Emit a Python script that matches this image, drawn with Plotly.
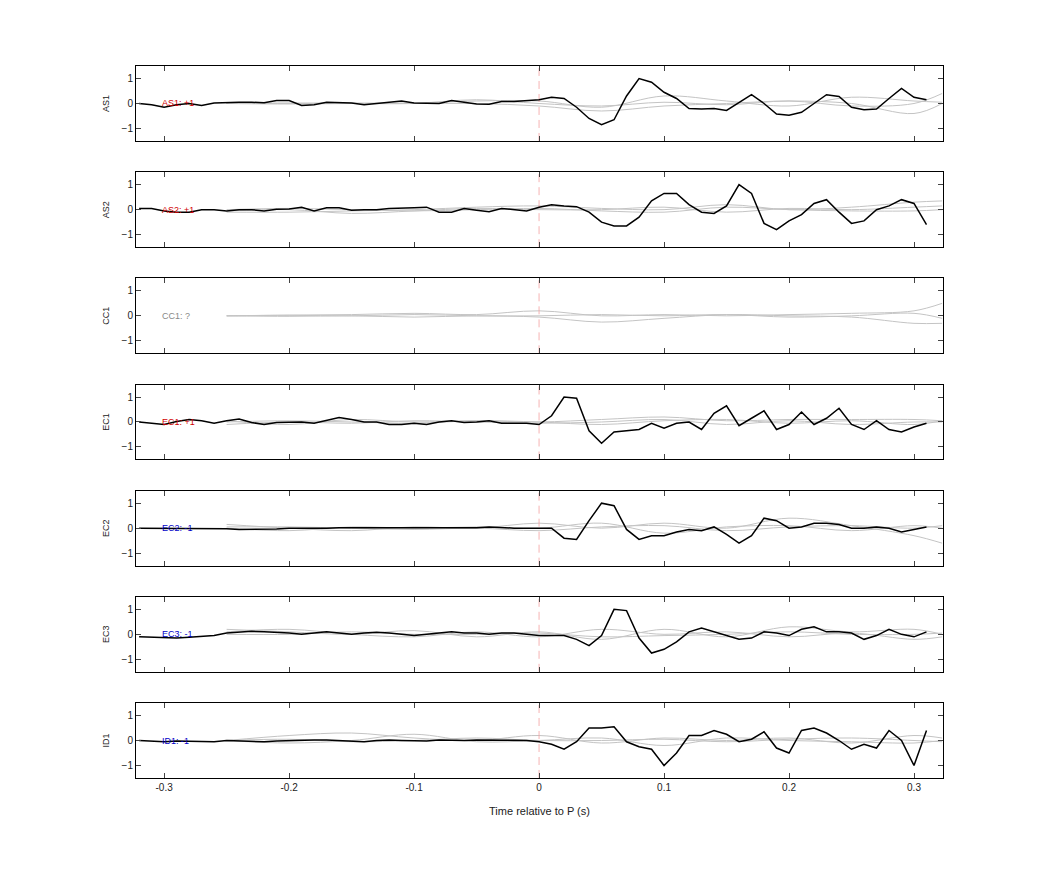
import plotly.graph_objects as go
from plotly.subplots import make_subplots

stations = ['AS1', 'AS2', 'CC1', 'EC1', 'EC2', 'EC3', 'ID1']
polarity = ['+1', '+1', '?', '+1', '-1', '-1', '-1']
label_colors = ['#d00000', '#d00000', '#888888', '#d00000', '#0000c8', '#0000c8', '#0000c8']

# black traces, sampled every 0.01 s from -0.32 to 0.31
t = [round(-0.32 + 0.01 * i, 2) for i in range(64)]

as1 = [0.0, -0.05, -0.15, -0.05, 0.0, -0.08, 0.02, 0.05, 0.05, 0.05, 0.03, 0.12, 0.12, -0.08, -0.05, 0.05,
       0.05, 0.02, -0.05, 0.0, 0.08, 0.1, 0.02, 0.02, 0.0, 0.12, 0.05, -0.02, -0.03, 0.08, 0.08, 0.1,
       0.15, 0.25, 0.2, -0.15, -0.6, -0.85, -0.65, 0.3, 1.0, 0.85, 0.45, 0.2, -0.2, -0.22, -0.2, -0.28,
       0.05, 0.35, 0.0, -0.42, -0.47, -0.35, 0.0, 0.35, 0.28, -0.15, -0.25, -0.22, 0.2, 0.6, 0.25, 0.15]
as2 = [0.05, 0.05, -0.05, -0.1, -0.1, 0.0, 0.0, -0.05, 0.0, 0.0, -0.05, 0.02, 0.03, 0.1, -0.05, 0.08,
       0.08, -0.02, 0.0, 0.0, 0.05, 0.05, 0.08, 0.1, -0.1, -0.1, 0.05, -0.02, -0.08, 0.05, 0.0, -0.05,
       0.1, 0.2, 0.15, 0.12, -0.1, -0.5, -0.65, -0.65, -0.3, 0.35, 0.65, 0.65, 0.2, -0.1, -0.15, 0.15,
       1.0, 0.65, -0.55, -0.8, -0.45, -0.2, 0.25, 0.4, -0.1, -0.55, -0.45, 0.0, 0.15, 0.4, 0.25, -0.6]
ec1 = [0.0, -0.05, -0.1, 0.02, 0.1, 0.05, -0.05, 0.05, 0.12, -0.02, -0.1, -0.02, -0.02, 0.0, -0.05, 0.05,
       0.18, 0.1, 0.0, 0.0, -0.1, -0.1, -0.05, -0.1, 0.0, 0.05, -0.02, 0.0, 0.05, -0.05, -0.05, -0.05,
       -0.1, 0.25, 1.0, 0.95, -0.35, -0.85, -0.4, -0.35, -0.3, -0.05, -0.25, -0.05, 0.0, -0.3, 0.35, 0.65,
       -0.15, 0.15, 0.45, -0.3, -0.1, 0.4, -0.1, 0.15, 0.55, -0.1, -0.3, 0.05, -0.3, -0.4, -0.2, -0.05]
ec2 = [0.0, 0.0, 0.0, 0.0, 0.0, 0.0, -0.02, -0.02, -0.05, -0.05, -0.05, -0.03, 0.0, 0.0, -0.02, 0.0,
       0.02, 0.02, 0.0, 0.0, 0.0, 0.02, 0.03, 0.02, 0.0, 0.02, 0.0, 0.02, 0.05, 0.02, 0.0, 0.0,
       0.0, 0.0, -0.4, -0.45, 0.3, 1.0, 0.9, -0.05, -0.45, -0.3, -0.3, -0.15, -0.05, -0.1, 0.05, -0.25,
       -0.6, -0.3, 0.4, 0.3, 0.0, 0.05, 0.2, 0.2, 0.15, 0.0, 0.0, 0.05, 0.0, -0.15, -0.05, 0.05]
ec3 = [-0.1, -0.12, -0.15, -0.15, -0.12, -0.1, -0.05, 0.05, 0.1, 0.12, 0.1, 0.08, 0.05, 0.0, 0.05, 0.1,
       0.05, 0.0, 0.05, 0.08, 0.05, 0.0, -0.05, 0.0, 0.05, 0.1, 0.05, 0.05, 0.0, 0.05, 0.05, 0.0,
       -0.05, -0.05, -0.05, -0.2, -0.45, -0.05, 1.0, 0.95, -0.15, -0.75, -0.6, -0.3, 0.1, 0.25, 0.1, -0.05,
       -0.2, -0.15, 0.1, 0.05, -0.05, 0.2, 0.3, 0.1, 0.1, 0.05, -0.2, -0.05, 0.2, 0.0, -0.1, 0.1]
id1 = [0.0, -0.02, -0.05, -0.02, -0.02, -0.05, -0.05, 0.0, -0.02, -0.05, -0.05, -0.02, 0.0, 0.0, 0.02, 0.02,
       0.0, -0.02, -0.05, 0.0, 0.02, 0.0, 0.0, -0.02, 0.02, 0.0, 0.0, 0.02, 0.02, 0.0, 0.02, 0.0,
       -0.05, -0.15, -0.35, -0.05, 0.5, 0.5, 0.55, -0.05, -0.25, -0.35, -1.0, -0.5, 0.2, 0.2, 0.4, 0.25,
       -0.05, 0.05, 0.35, -0.3, -0.5, 0.4, 0.5, 0.3, 0.0, -0.35, -0.15, -0.3, 0.4, 0.0, -1.0, 0.4]
black = [as1, as2, None, ec1, ec2, ec3, id1]

# grey (synthetic comparison) traces, smooth, from -0.25 s
tg = [-0.25, -0.2, -0.15, -0.1, -0.05, 0.0, 0.05, 0.1, 0.15, 0.2, 0.25, 0.3, 0.3225]
grey = [
    [[0.0, 0.02, 0.0, 0.02, 0.1, 0.1, -0.15, 0.3, 0.1, -0.1, 0.25, 0.1, 0.05],
     [0.0, -0.02, 0.0, 0.0, 0.15, 0.0, -0.1, 0.05, -0.05, 0.1, -0.1, 0.0, 0.4],
     [0.0, 0.0, 0.02, 0.0, 0.0, -0.1, -0.3, -0.1, 0.0, 0.1, 0.0, -0.4, 0.0]],
    [[-0.1, -0.1, -0.05, 0.0, 0.1, 0.15, 0.05, 0.0, 0.2, 0.0, 0.1, 0.3, 0.35],
     [-0.05, 0.0, -0.15, -0.05, 0.05, 0.0, 0.0, 0.1, -0.1, 0.05, 0.0, 0.1, 0.15],
     [0.0, 0.05, 0.0, -0.05, 0.0, 0.05, -0.05, -0.1, 0.1, 0.0, -0.05, -0.05, 0.0]],
    [[0.0, 0.03, 0.05, 0.1, 0.05, 0.2, 0.0, 0.05, 0.0, 0.05, 0.1, 0.2, 0.5],
     [0.0, -0.02, 0.0, -0.05, 0.0, -0.05, -0.25, -0.1, 0.05, 0.0, -0.05, -0.3, -0.3],
     [0.0, 0.02, 0.0, 0.05, 0.0, 0.0, 0.05, 0.0, 0.05, -0.05, 0.0, 0.1, -0.1]],
    [[0.05, -0.1, 0.1, 0.0, 0.05, 0.0, 0.1, 0.2, 0.05, 0.1, 0.1, 0.1, 0.05],
     [-0.1, 0.0, -0.05, 0.05, 0.0, -0.05, 0.0, 0.1, -0.1, 0.05, -0.1, 0.0, 0.0],
     [0.0, 0.05, 0.0, -0.05, 0.05, 0.0, -0.1, 0.05, 0.1, -0.05, 0.05, -0.1, 0.05]],
    [[0.15, 0.0, -0.1, 0.05, 0.0, 0.2, 0.0, 0.2, 0.0, 0.4, 0.1, -0.3, -0.6],
     [0.0, -0.1, 0.05, 0.0, 0.05, 0.0, 0.2, -0.2, 0.05, 0.1, -0.1, 0.1, 0.0],
     [0.05, 0.05, 0.0, -0.05, 0.0, -0.1, 0.05, 0.1, -0.1, 0.05, 0.1, 0.0, 0.1]],
    [[0.2, 0.1, 0.0, 0.15, -0.1, 0.1, -0.2, 0.2, -0.1, 0.3, 0.1, 0.2, 0.0],
     [0.1, 0.2, 0.0, -0.1, 0.1, -0.1, 0.2, 0.0, 0.1, -0.1, 0.05, -0.2, -0.1],
     [0.0, 0.0, 0.1, 0.0, 0.0, 0.05, -0.1, -0.05, 0.0, 0.1, 0.0, 0.0, 0.05]],
    [[0.0, 0.2, 0.3, 0.1, 0.0, 0.2, -0.1, 0.1, 0.0, 0.1, -0.1, 0.2, 0.1],
     [0.0, -0.1, 0.0, 0.25, -0.05, 0.0, 0.1, -0.2, 0.1, 0.0, -0.05, -0.1, 0.0],
     [0.0, 0.05, -0.05, 0.0, 0.1, 0.0, 0.0, 0.05, -0.05, 0.05, 0.1, 0.0, -0.05]],
]

fig = make_subplots(rows=7, cols=1, shared_xaxes=True, vertical_spacing=0.0438)

for i, st in enumerate(stations):
    r = i + 1
    for g in grey[i]:
        fig.add_trace(go.Scatter(x=tg, y=g, mode='lines', line=dict(color='#c4c4c4', width=1, shape='spline'),
                                 showlegend=False, hoverinfo='skip'), row=r, col=1)
    fig.add_trace(go.Scatter(x=[0, 0], y=[-1.5, 1.5], mode='lines',
                             line=dict(color='#f4a0a0', width=0.8, dash='8px,5px'),
                             showlegend=False, hoverinfo='skip'), row=r, col=1)
    if black[i] is not None:
        fig.add_trace(go.Scatter(x=t, y=black[i], mode='lines', line=dict(color='black', width=1.5),
                                 showlegend=False), row=r, col=1)
    fig.add_annotation(x=-0.303, y=0, text=f'{st}: {polarity[i]}', showarrow=False, xanchor='left',
                       font=dict(size=9, color=label_colors[i]), row=r, col=1)
    fig.update_yaxes(range=[-1.5, 1.5], tickvals=[-1, 0, 1], ticks='inside', ticklen=5,
                     showline=True, mirror='ticks', linecolor='black', showgrid=False, zeroline=False,
                     title=dict(text=st, font=dict(size=9), standoff=10),
                     tickfont=dict(size=10), row=r, col=1)
    fig.update_xaxes(range=[-0.3225, 0.3232], tickvals=[-0.3, -0.2, -0.1, 0, 0.1, 0.2, 0.3],
                     ticktext=['-0.3', '-0.2', '-0.1', '0', '0.1', '0.2', '0.3'],
                     ticks='inside', ticklen=5, showline=True, mirror='ticks', linecolor='black',
                     showgrid=False, zeroline=False, tickfont=dict(size=10), row=r, col=1)

fig.update_xaxes(title=dict(text='Time relative to P (s)', font=dict(size=11)), row=7, col=1)
fig.update_layout(width=1042, height=875, margin=dict(l=128, r=107, t=58, b=105),
                  plot_bgcolor='white', paper_bgcolor='white',
                  font=dict(family='Liberation Sans, Arial', color='#222222'))

fig.write_html('out.html')
